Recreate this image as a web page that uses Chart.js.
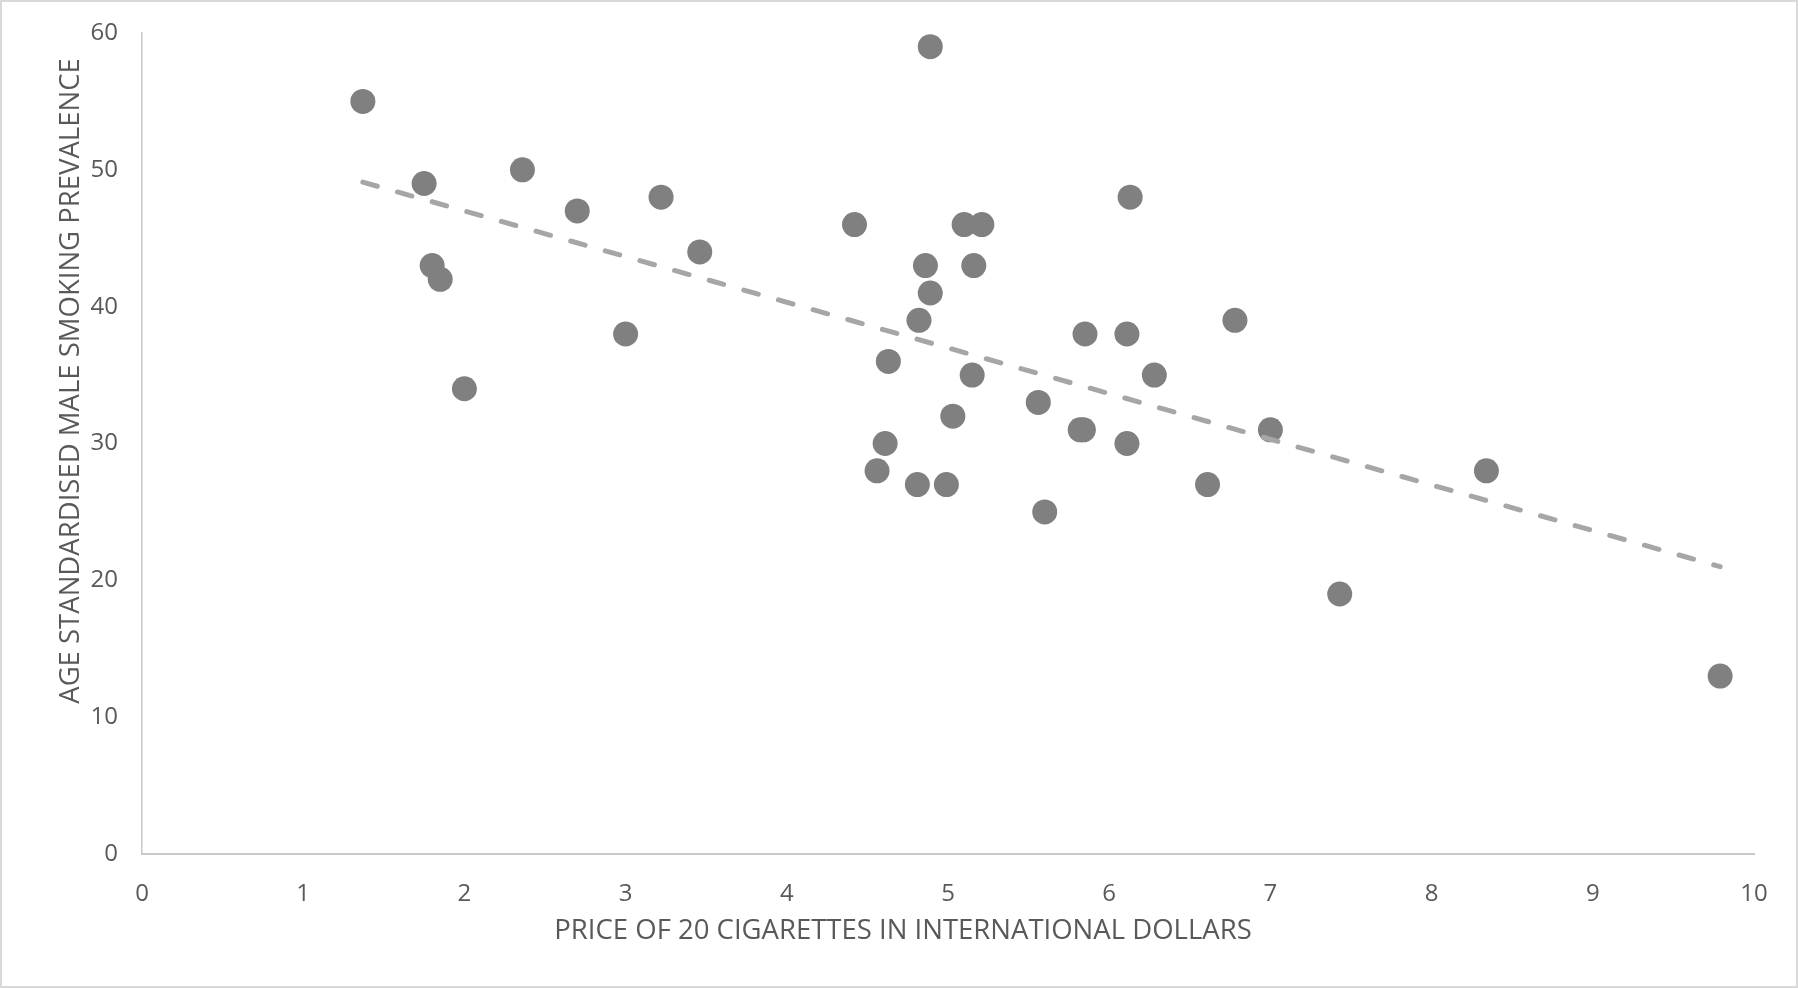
<!DOCTYPE html>
<html>
<head>
<meta charset="utf-8">
<script src="https://cdn.jsdelivr.net/npm/chart.js@4.4.0/dist/chart.umd.min.js"></script>
<style>
  html, body { margin: 0; padding: 0; background: #fff; }
  #wrap { position: relative; width: 1798px; height: 988px; box-sizing: border-box; border: 2px solid #d9d9d9; }
  canvas { display: block; }
</style>
</head>
<body>
<div id="wrap"><canvas id="priceChart" width="1794" height="984"></canvas></div>
<script>
// price of 20 cigarettes (intl $) vs age standardised male smoking prevalence
const priceX = [1.37, 1.75, 1.80, 1.85, 2.00, 2.36, 2.70, 3.00, 3.22, 3.46,
  4.42, 4.56, 4.61, 4.63, 4.81, 4.82, 4.86, 4.89, 4.89, 4.99,
  5.03, 5.10, 5.15, 5.16, 5.21, 5.56, 5.60, 5.82, 5.84, 5.85,
  6.11, 6.11, 6.13, 6.28, 6.61, 6.78, 7.00, 7.43, 8.34, 9.79];
const prevalenceY = [55, 49, 43, 42, 34, 50, 47, 38, 48, 44,
  46, 28, 30, 36, 27, 39, 43, 41, 59, 27,
  32, 46, 35, 43, 46, 33, 25, 31, 31, 38,
  38, 30, 48, 35, 27, 39, 31, 19, 28, 13];

// trendline end points
const trendX = [1.37, 9.79];
const trendY = [49.1, 21.0];

const xTicks = [0, 1, 2, 3, 4, 5, 6, 7, 8, 9, 10];
const yTicks = [0, 10, 20, 30, 40, 50, 60];

const xTitle = 'PRICE OF 20 CIGARETTES IN INTERNATIONAL DOLLARS';
const yTitle = 'AGE STANDARDISED MALE SMOKING PREVALENCE';

const textGrey = '#595959';
const fontFamily = '"Open Sans", "DejaVu Sans", sans-serif';

// axis titles are placed by hand, Excel does not centre them on the plot
const titlePlugin = {
  id: 'axisTitles',
  afterDraw(chart) {
    const ctx = chart.ctx;
    ctx.save();
    ctx.fillStyle = textGrey;
    ctx.font = '27.5px ' + fontFamily;
    ctx.textAlign = 'center';
    ctx.textBaseline = 'middle';
    ctx.fillText(xTitle, 901, 929);
    ctx.translate(69, 379);
    ctx.rotate(-Math.PI / 2);
    ctx.fillText(yTitle, 0, 0);
    ctx.restore();
  }
};

document.addEventListener('DOMContentLoaded', () => {
  const ctx = document.getElementById('priceChart').getContext('2d');
  new Chart(ctx, {
    type: 'scatter',
    data: {
      datasets: [
        {
          type: 'line',
          label: 'Trend',
          data: trendX.map((x, i) => ({ x, y: trendY[i] })),
          borderColor: '#a6a6a6',
          borderWidth: 5,
          borderDash: [15, 21],
          borderCapStyle: 'round',
          pointRadius: 0,
          fill: false
        },
        {
          label: 'Countries',
          data: priceX.map((x, i) => ({ x, y: prevalenceY[i] })),
          backgroundColor: '#808080',
          borderWidth: 0,
          pointRadius: 12.5,
          pointHoverRadius: 12.5
        }
      ]
    },
    options: {
      responsive: false,
      animation: false,
      layout: { padding: { top: 31, right: 42, bottom: 0, left: 0 } },
      plugins: { legend: { display: false }, tooltip: { enabled: false } },
      scales: {
        x: {
          type: 'linear',
          min: 0,
          max: 10,
          afterBuildTicks: axis => { axis.ticks = xTicks.map(v => ({ value: v })); },
          afterFit: axis => { axis.height = 132; axis.paddingLeft = 0; axis.paddingRight = 0; },
          grid: { display: false, drawTicks: false },
          border: { color: '#c8c8c8', width: 2 },
          ticks: { color: textGrey, font: { size: 24, family: fontFamily }, padding: 26 }
        },
        y: {
          type: 'linear',
          min: 0,
          max: 60,
          afterBuildTicks: axis => { axis.ticks = yTicks.map(v => ({ value: v })); },
          afterFit: axis => { axis.width = 140; axis.paddingTop = 0; axis.paddingBottom = 0; },
          grid: { display: false, drawTicks: false },
          border: { color: '#c8c8c8', width: 1.5 },
          ticks: { color: textGrey, font: { size: 24, family: fontFamily }, padding: 24 }
        }
      }
    },
    plugins: [titlePlugin]
  });
});
</script>
</body>
</html>
